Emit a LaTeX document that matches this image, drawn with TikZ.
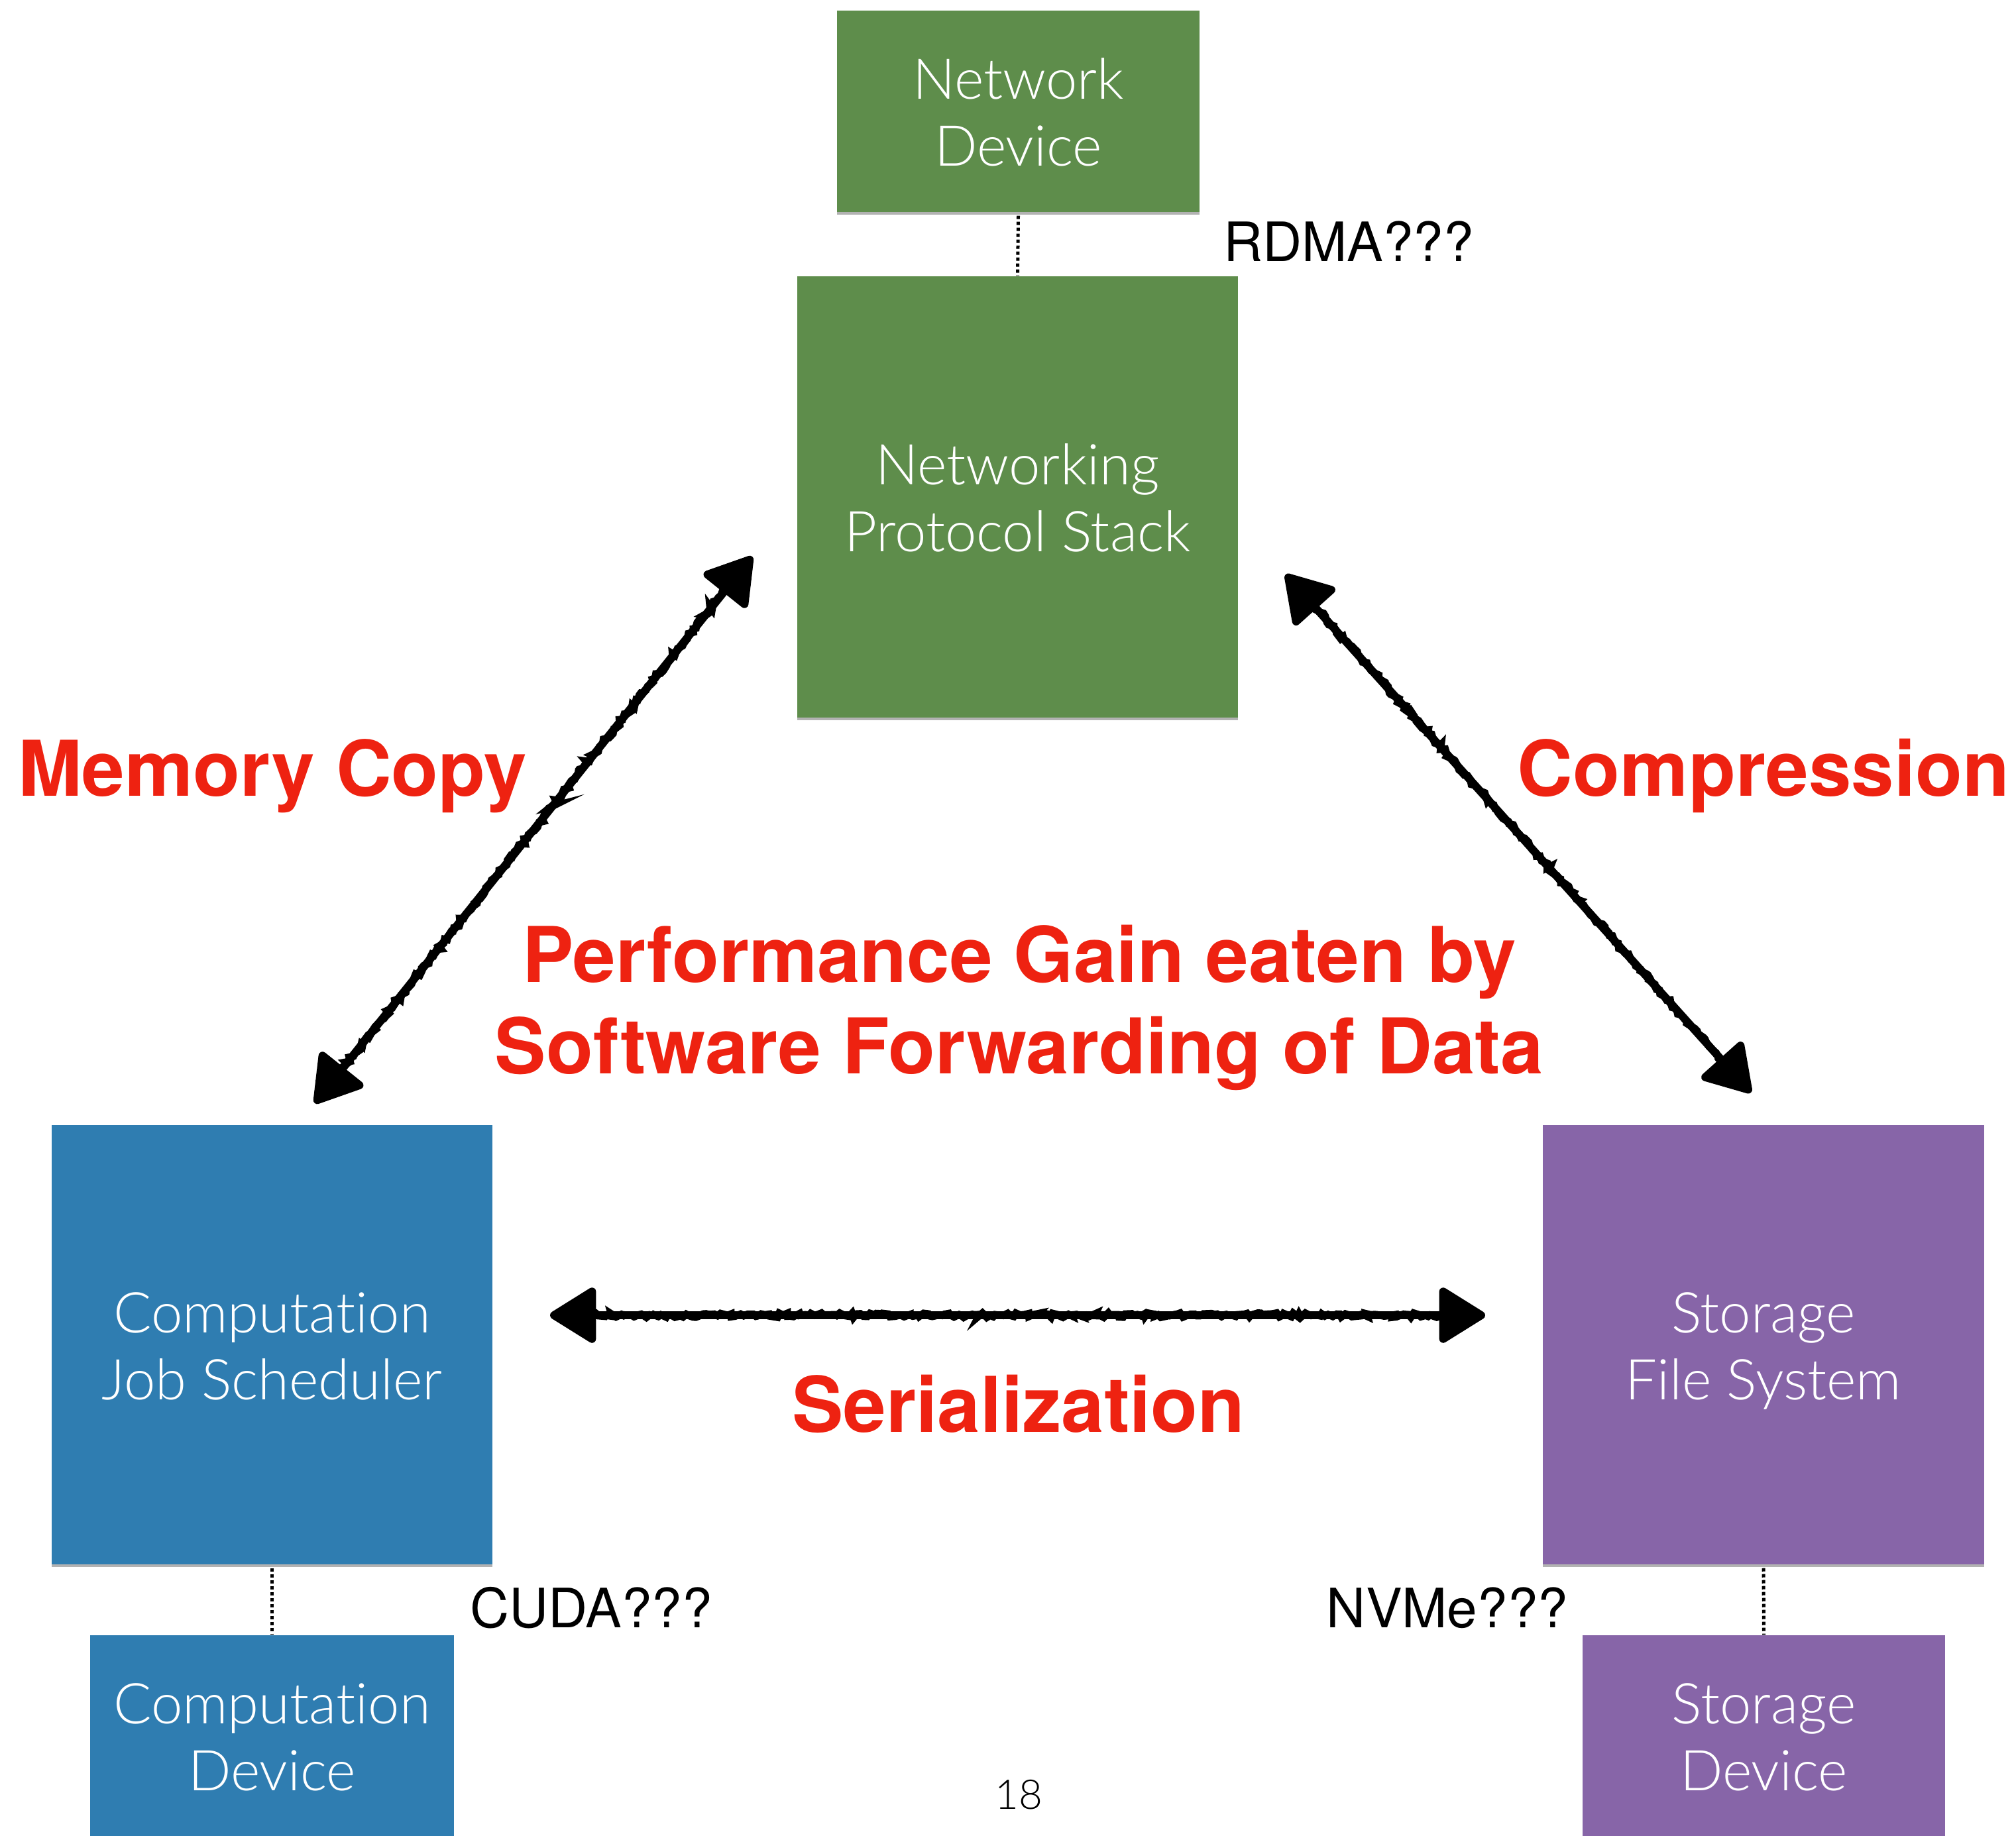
\documentclass[tikz,border=0pt]{standalone}
\usepackage{fontspec}
\setmainfont{TeX Gyre Heros}
\newfontfamily\lightfont{Lato Light}[Ligatures={NoCommon,NoContextual}]
\usetikzlibrary{arrows.meta,shadows,decorations.pathmorphing,calc}

\definecolor{netgreen}{HTML}{5E8D4B}
\definecolor{compblue}{HTML}{2F7DB1}
\definecolor{storpurple}{HTML}{8765A8}
\definecolor{hotred}{HTML}{EE2211}

\tikzset{
  card/.style={rectangle, inner sep=0pt, draw=none,
    drop shadow={shadow xshift=0cm, shadow yshift=-0.035cm, opacity=0.3, fill=black}},
  cardtext/.style={text=white, font=\lightfont\fontsize{24.2}{28.7}\selectfont,
    inner sep=0pt, anchor=base},
  hot/.style={text=hotred, font=\bfseries\fontsize{33}{38.7}\selectfont,
    inner sep=0pt, anchor=base},
  tag/.style={text=black, font=\fontsize{23.3}{28}\selectfont, inner sep=0pt, anchor=base},
  pagenum/.style={text=black, font=\lightfont\fontsize{17.6}{20}\selectfont, inner sep=0pt, anchor=base},
  linkdots/.style={draw=black, line width=0.05cm, dash pattern=on 0.05cm off 0.04cm},
  sketch/.style={draw=black, line width=0.12cm,
    {Triangle[length=0.75cm,width=0.9cm,round]}-{Triangle[length=0.75cm,width=0.9cm,round]}},
  rough/.style={draw=black, line width=0.11cm, decorate,
    decoration={random steps, segment length=0.05cm, amplitude=0.035cm}},
}

\begin{document}
\begin{tikzpicture}
\useasboundingbox (0,0) rectangle (30.42,-27.70);
\pgfmathsetseed{18}

% cards
\node[card, fill=netgreen, minimum width=5.47cm, minimum height=3.04cm] (nd) at (15.365,-1.68) {};
\node[card, fill=netgreen, minimum width=6.65cm, minimum height=6.66cm] (ns) at (15.355,-7.50) {};
\node[card, fill=compblue, minimum width=6.65cm, minimum height=6.63cm] (cs) at (4.105,-20.295) {};
\node[card, fill=compblue, minimum width=5.49cm, minimum height=3.04cm] (cd) at (4.105,-26.20) {};
\node[card, fill=storpurple, minimum width=6.66cm, minimum height=6.63cm] (sf) at (26.61,-20.295) {};
\node[card, fill=storpurple, minimum width=5.47cm, minimum height=3.04cm] (sd) at (26.615,-26.20) {};

% card labels
\node[cardtext] (nd1) at ([yshift=0.19cm]nd.center) {Network};
\node[cardtext] (nd2) at ([yshift=-0.82cm]nd.center) {Device};
\node[cardtext] (ns1) at ([yshift=0.185cm]ns.center) {Networking};
\node[cardtext] (ns2) at ([yshift=-0.825cm]ns.center) {Protocol Stack};
\node[cardtext] (cs1) at ([yshift=0.185cm]cs.center) {Computation};
\node[cardtext] (cs2) at ([yshift=-0.825cm]cs.center) {Job Scheduler};
\node[cardtext] (cd1) at ([yshift=0.185cm]cd.center) {Computation};
\node[cardtext] (cd2) at ([yshift=-0.825cm]cd.center) {Device};
\node[cardtext] (sf1) at ([yshift=0.185cm]sf.center) {Storage};
\node[cardtext] (sf2) at ([yshift=-0.825cm]sf.center) {File System};
\node[cardtext] (sd1) at ([yshift=0.185cm]sd.center) {Storage};
\node[cardtext] (sd2) at ([yshift=-0.825cm]sd.center) {Device};

% dotted links between layers
\draw[linkdots] ([yshift=-0.05cm]nd.south) -- (ns.north);
\draw[linkdots] ([yshift=-0.05cm]cs.south) -- (cd.north);
\draw[linkdots] ([yshift=-0.05cm]sf.south) -- (sd.north);

% hardware hints
\node[tag] (rdma) at (20.35,-3.94) {RDMA???};
\node[tag] (cuda) at (8.92,-24.56) {CUDA???};
\node[tag] (nvme) at (21.84,-24.56) {NVMe???};

% data-forwarding arrows
\coordinate (mcA) at (4.75,-16.65);
\coordinate (mcB) at (11.35,-8.40);
\coordinate (cpA) at (19.40,-8.67);
\coordinate (cpB) at (26.42,-16.49);
\coordinate (srA) at (8.30,-19.85);
\coordinate (srB) at (22.41,-19.85);

\foreach \a/\b in {mcA/mcB, cpA/cpB, srA/srB}{
  \draw[sketch] (\a) -- (\b);
  \draw[rough] ($(\a)!0.6cm!(\b)$) -- ($(\b)!0.6cm!(\a)$);
}

% overhead labels
\node[hot] (memcopy) at (4.11,-12.01) {Memory Copy};
\node[hot] (compress) at (26.61,-12.01) {Compression};
\node[hot] (gain1) at (15.38,-14.82) {Performance Gain eaten by};
\node[hot] (gain2) at (15.38,-16.20) {Software Forwarding of Data};
\node[hot] (serial) at (15.37,-21.61) {Serialization};

% slide number
\node[pagenum] (pageno) at (15.37,-27.30) {18};
\end{tikzpicture}
\end{document}
